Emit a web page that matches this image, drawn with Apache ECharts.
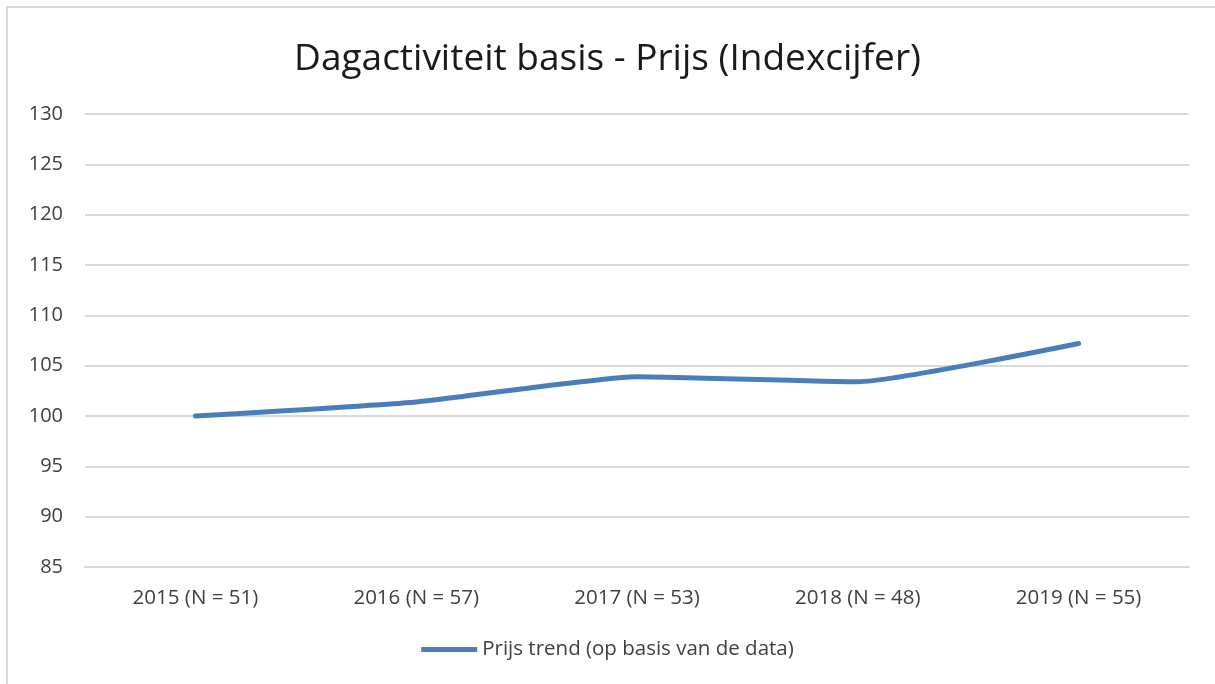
<!DOCTYPE html>
<html><head><meta charset="utf-8">
<script src="https://cdn.jsdelivr.net/npm/echarts@6/dist/echarts.min.js"></script>
<style>
html,body{margin:0;padding:0;background:#fff;overflow:hidden;}
#frame{position:absolute;left:6px;top:6px;width:1209px;height:678px;border-left:2px solid #d9d9d9;border-top:2px solid #d9d9d9;box-sizing:border-box;}
#c{position:absolute;left:0;top:0;width:1215px;height:684px;}
</style></head>
<body><div id="frame"></div><div id="c"></div>
<script>
const categories = ['2015 (N = 51)','2016 (N = 57)','2017 (N = 53)','2018 (N = 48)','2019 (N = 55)'];
const seriesName = 'Prijs trend (op basis van de data)';
const values = [100, 101.4, 103.9, 103.4, 107.2];
const chartTitle = 'Dagactiviteit basis - Prijs (Indexcijfer)';

const font = '"Open Sans", sans-serif';
const chart = echarts.init(document.getElementById('c'));
chart.setOption({
  animation:false,
  title:{text:chartTitle,left:'center',top:36,textStyle:{fontFamily:font,fontWeight:'normal',fontSize:37,color:'#1a1a1a'}},
  legend:{bottom:19,left:'center',itemWidth:56,itemHeight:5,itemGap:6,icon:'rect',
    textStyle:{fontFamily:font,fontSize:20.5,color:'#404040'},data:[seriesName]},
  grid:{left:85,right:26,top:114,bottom:117},
  xAxis:{type:'category',data:categories,boundaryGap:true,
    axisLine:{lineStyle:{color:'#d9d9d9',width:2}},axisTick:{show:false},
    axisLabel:{fontFamily:font,fontSize:20.5,color:'#404040',margin:21}},
  yAxis:{type:'value',min:85,max:130,interval:5,
    axisLine:{show:false},axisTick:{show:false},
    splitLine:{lineStyle:{color:'#d9d9d9',width:2}},
    axisLabel:{fontFamily:font,fontSize:20,color:'#404040',margin:22}},
  series:[{name:seriesName,type:'line',data:values,smooth:0.15,symbol:'none',
    lineStyle:{color:'#4a7ebb',width:5,cap:'round'},itemStyle:{color:'#4a7ebb'}}]
});
</script></body></html>
